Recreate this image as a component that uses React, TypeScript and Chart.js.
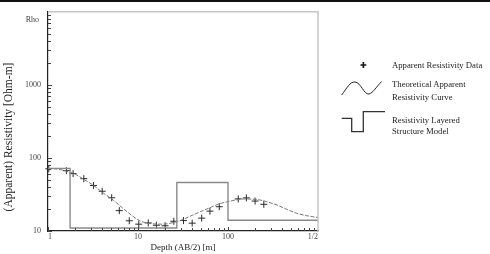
import { useEffect, useRef } from 'react';
import { Chart, registerables } from 'chart.js';

Chart.register(...registerables);

// Apparent resistivity data (crosses)
const dataDepth = [1.02, 1.6, 1.9, 2.5, 3.2, 4.0, 5.1, 6.2, 8.0, 10.2, 13, 16, 20, 25, 32, 40, 51, 63, 80, 130, 160, 200, 250];
const dataRho = [71, 67, 61, 52, 42, 35, 28.5, 19, 13.8, 12.4, 12.9, 12, 11.8, 13.6, 13.9, 12.8, 15, 18.7, 21.5, 27.5, 28.4, 25.7, 23.2];

// Theoretical apparent resistivity curve
const curveDepth = [1, 1.3, 1.6, 2, 2.5, 3.2, 4, 5.3, 7.5, 10.5, 14, 19, 25, 30, 40, 50, 65, 80, 100, 120, 150, 210, 280, 350, 450, 580, 750, 1000];
const curveRho = [72, 70, 66, 60, 51, 42, 34, 26.5, 18.5, 13.8, 12.6, 12.4, 13.1, 14, 16.4, 18.5, 21.2, 23.6, 25.2, 26.5, 27.4, 27, 24.8, 22.7, 19.8, 17.5, 16.2, 15.3];

// Layered structure model (step)
const modelDepth = [1, 1.76, 27, 100, 1000];
const modelRho = [72, 11, 46, 14, 14];

// Axis ticks
const xTickValues = [1, 10, 100, 1000];
const xTickLabels = ['1', '10', '100', '1/2'];
const yTickValues = [10, 100, 1000, 10000];
const yTickLabels = ['10', '100', '1000', 'Rho'];

const xTitle = 'Depth (AB/2) [m]';
const yTitle = '(Apparent) Resistivity [Ohm-m]';

const legendData = 'Apparent Resistivity Data';
const legendCurve = ['Theoretical Apparent', 'Resistivity Curve'];
const legendModel = ['Resistivity Layered', 'Structure Model'];

const SERIF = '"Liberation Serif", "Times New Roman", serif';

const decorPlugin = {
  id: 'decor',
  afterDraw(chart: any) {
    const { ctx, chartArea } = chart;
    const { left, right, top, bottom } = chartArea;
    const xs = chart.scales.x;
    const ys = chart.scales.y;
    ctx.save();
    // light frame top/right
    ctx.strokeStyle = '#c6c6c6';
    ctx.lineWidth = 1.5;
    ctx.beginPath();
    ctx.moveTo(left, top);
    ctx.lineTo(right, top);
    ctx.lineTo(right, bottom);
    ctx.stroke();
    // inward minor ticks
    ctx.strokeStyle = '#444';
    ctx.lineWidth = 1;
    for (let d = 1; d < 4; d++) {
      for (let m = 1; m <= 9; m++) {
        const v = m * Math.pow(10, d);
        if (v < ys.min || v > ys.max) continue;
        const y = Math.round(ys.getPixelForValue(v)) + 0.5;
        const len = m === 1 ? 4 : 3;
        ctx.beginPath();
        ctx.moveTo(left, y);
        ctx.lineTo(left + len, y);
        ctx.stroke();
      }
    }
    for (let d = 0; d < 3; d++) {
      for (let m = 1; m <= 9; m++) {
        const v = m * Math.pow(10, d);
        if (v < xs.min || v > xs.max) continue;
        const x = Math.round(xs.getPixelForValue(v)) + 0.5;
        const len = m === 1 ? 4 : 3;
        ctx.beginPath();
        ctx.moveTo(x, bottom);
        ctx.lineTo(x, bottom - len);
        ctx.stroke();
      }
    }
    // top tick label (drawn slightly below the top)
    ctx.fillStyle = '#444';
    ctx.font = `8px ${SERIF}`;
    ctx.textAlign = 'right';
    ctx.textBaseline = 'middle';
    const topIdx = yTickValues.length - 1;
    ctx.fillText(yTickLabels[topIdx], left - 9, ys.getPixelForValue(yTickValues[topIdx]) + 8);
    // y title
    ctx.fillStyle = '#222';
    ctx.font = `11.5px ${SERIF}`;
    ctx.textAlign = 'center';
    ctx.translate(9, 137);
    ctx.rotate(-Math.PI / 2);
    ctx.fillText(yTitle, 0, 0);
    ctx.restore();
  },
};

export default function App() {
  const ref = useRef<HTMLCanvasElement>(null);

  useEffect(() => {
    document.body.style.margin = '0';
    const canvas = ref.current;
    if (!canvas) return;
    const chart = new Chart(canvas, {
      type: 'line',
      data: {
        datasets: [
          {
            label: 'model',
            data: modelDepth.map((x, i) => ({ x, y: modelRho[i] })),
            borderColor: '#8a8a8a',
            borderWidth: 1.4,
            stepped: 'before',
            pointRadius: 0,
            fill: false,
          },
          {
            label: 'curve',
            data: curveDepth.map((x, i) => ({ x, y: curveRho[i] })),
            borderColor: '#7a7a7a',
            borderWidth: 1,
            borderDash: [4, 1.5],
            cubicInterpolationMode: 'monotone',
            pointRadius: 0,
            fill: false,
          },
          {
            label: 'data',
            data: dataDepth.map((x, i) => ({ x, y: dataRho[i] })),
            showLine: false,
            pointStyle: 'cross',
            pointRadius: 3.5,
            pointBorderWidth: 1,
            pointBorderColor: '#2a2a2a',
            borderColor: '#2a2a2a',
            clip: false,
          } as any,
        ],
      },
      options: {
        responsive: false,
        animation: false,
        devicePixelRatio: 1,
        layout: { padding: { left: 0, right: 172, top: 4, bottom: 0 } },
        plugins: { legend: { display: false }, tooltip: { enabled: false } },
        scales: {
          x: {
            type: 'logarithmic',
            min: 1,
            max: 1000,
            afterFit: (s: any) => { s.height = 23; },
            afterBuildTicks: (s: any) => { s.ticks = xTickValues.map((v) => ({ value: v })); },
            grid: { display: false, drawTicks: false },
            border: { display: true, color: '#222', width: 1.2 },
            ticks: {
              autoSkip: false,
              maxRotation: 0,
              align: 'inner',
              padding: 1.5,
              color: '#444',
              font: { family: SERIF, size: 8 },
              callback: (v: any) => {
                const i = xTickValues.indexOf(Number(v));
                return i >= 0 ? xTickLabels[i] : '';
              },
            },
            title: {
              display: true,
              text: xTitle,
              color: '#222',
              font: { family: SERIF, size: 9 },
              padding: { top: 0, bottom: 1 },
            },
          },
          y: {
            type: 'logarithmic',
            min: 10,
            max: 10000,
            afterFit: (s: any) => { s.width = 48; },
            afterBuildTicks: (s: any) => { s.ticks = yTickValues.map((v) => ({ value: v })); },
            grid: { display: false, drawTicks: false },
            border: { display: true, color: '#222', width: 1.2 },
            ticks: {
              autoSkip: false,
              padding: 7,
              color: '#444',
              font: { family: SERIF, size: 8 },
              callback: (v: any) => {
                const i = yTickValues.indexOf(Number(v));
                if (i === yTickValues.length - 1) return '';
                return i >= 0 ? yTickLabels[i] : '';
              },
            },
          },
        },
      },
      plugins: [decorPlugin],
    } as any);
    return () => chart.destroy();
  }, []);

  const txt = (top: number, s: string) => (
    <div
      style={{
        position: 'absolute',
        left: 392,
        top: top - 5,
        height: 10,
        lineHeight: '10px',
        fontSize: '8.7px',
        fontFamily: SERIF,
        color: '#222',
        whiteSpace: 'nowrap',
      }}
    >
      {s}
    </div>
  );

  return (
    <div style={{ position: 'relative', width: 490, height: 254, background: '#fff', overflow: 'hidden' }}>
      <canvas ref={ref} width={490} height={254} style={{ position: 'absolute', left: 0, top: 0, width: 490, height: 254 }} />
      <div style={{ position: 'absolute', left: 0, top: 0, width: 490, height: 2, background: '#111' }} />
      <svg width={490} height={254} style={{ position: 'absolute', left: 0, top: 0 }}>
        <path d="M360.5 65 H366.3 M363.4 62 V68" stroke="#111" strokeWidth={1.6} fill="none" />
        <path d="M341.7 95 C347 88, 350 81.5, 355 82 C361 82.5, 364 95, 369 94 C373 93, 377 86, 381.7 81.5" stroke="#222" strokeWidth={1} fill="none" />
        <polyline points="341.7,118.3 351.7,118.3 351.7,131.7 363.3,131.7 363.3,111.7 385,111.7" stroke="#333" strokeWidth={1.3} fill="none" />
      </svg>
      {txt(65, legendData)}
      {txt(84.3, legendCurve[0])}
      {txt(96.7, legendCurve[1])}
      {txt(120, legendModel[0])}
      {txt(130.7, legendModel[1])}
    </div>
  );
}
